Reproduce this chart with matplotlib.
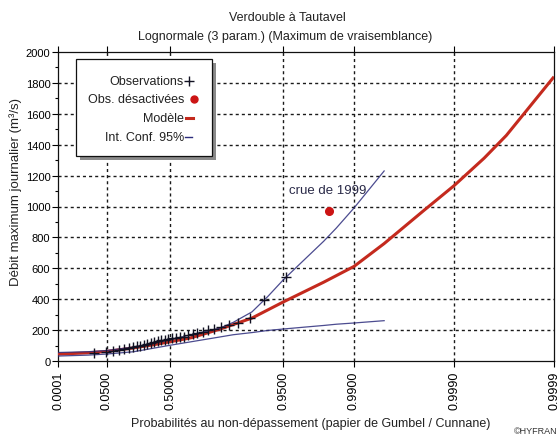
import numpy as np
import matplotlib
matplotlib.use('Agg')
import matplotlib.pyplot as plt
from matplotlib.patches import Rectangle
from matplotlib.lines import Line2D

FONT = ['Liberation Sans Narrow', 'Liberation Sans', 'DejaVu Sans']
plt.rcParams['font.family'] = FONT

# ---------------- data ----------------
title_lines = ["Verdouble à Tautavel",
               "Lognormale (3 param.) (Maximum de vraisemblance)"]
x_label = "Probabilités au non-dépassement (papier de Gumbel / Cunnane)"
y_label = "Débit maximum journalier (m³/s)"

x_tick_probs = [0.0001, 0.05, 0.5, 0.95, 0.99, 0.999, 0.9999]
x_tick_labels = ["0.0001", "0.0500", "0.5000", "0.9500", "0.9900", "0.9990", "0.9999"]
y_ticks = [0, 200, 400, 600, 800, 1000, 1200, 1400, 1600, 1800, 2000]

n_total = 34
obs_ranks = list(range(1, 34))
obs_values = [52, 60, 66, 72, 78, 84, 90, 95, 100, 106, 112, 118, 124, 130,
              134, 138, 142, 146, 150, 153, 158, 166, 174, 182, 190, 198,
              210, 220, 232, 246, 276, 392, 543]
deact_rank = 34
deact_value = 973

model_probs = [0.0001, 0.001, 0.01, 0.05, 0.2, 0.35, 0.5, 0.65, 0.8, 0.9,
               0.95, 0.98, 0.99, 0.995, 0.998, 0.999, 0.9995, 0.9997, 0.9998, 0.9999]
model_values = [45, 48, 53, 62, 85, 104, 125, 150, 205, 278,
                382, 510, 612, 760, 975, 1135, 1313, 1460, 1600, 1840]

ci_probs = [0.0001, 0.01, 0.05, 0.2, 0.5, 0.8, 0.85, 0.9, 0.93, 0.95, 0.97,
            0.98, 0.985, 0.99, 0.995]
ci_upper = [55, 60, 68, 90, 138, 212, 250, 318, 420, 525, 665,
            775, 860, 990, 1230]
ci_lower = [32, 38, 45, 60, 102, 155, 170, 184, 198, 207, 220,
            230, 238, 246, 261]

annotation = "crue de 1999"
legend_labels = ["Observations", "Obs. désactivées", "Modèle", "Int. Conf. 95%"]

# ---------------- helpers ----------------
def gumbel(p):
    p = np.asarray(p, dtype=float)
    return -np.log(-np.log(p))

def cunnane(rank, n):
    return (np.asarray(rank, dtype=float) - 0.4) / (n + 0.2)

W, H = 560, 439
fig = plt.figure(figsize=(W / 100, H / 100), dpi=100)
fig.patch.set_facecolor('white')

def fx(px):
    return px / W

def fy(py):
    return 1 - py / H

ax = fig.add_axes([fx(58), fy(362), fx(554) - fx(58), fy(53) - fy(362)])

RED = '#c42a1e'
NAVY = '#2c2c7c'

# grid
for p in x_tick_probs[1:-1]:
    ax.axvline(gumbel(p), color='#1a1a1a', lw=1.0, ls=(0, (2.2, 2.2)), zorder=1)
for v in y_ticks[1:-1]:
    ax.axhline(v, color='#1a1a1a', lw=1.0, ls=(0, (2.2, 2.2)), zorder=1)

# model
ax.plot(gumbel(model_probs), model_values, color=RED, lw=2.2, zorder=3,
        solid_capstyle='butt', solid_joinstyle='round')
# confidence intervals
ax.plot(gumbel(ci_probs), ci_upper, color=NAVY, lw=0.9, zorder=4, alpha=0.85)
ax.plot(gumbel(ci_probs), ci_lower, color=NAVY, lw=0.9, zorder=4, alpha=0.85)
# observations
ax.plot(gumbel(cunnane(obs_ranks, n_total)), obs_values, ls='none', marker='+',
        ms=7, mew=1.0, color='#111122', zorder=5)
# deactivated observation
ax.plot(gumbel(cunnane(deact_rank, n_total)), deact_value, ls='none', marker='o',
        ms=5.5, color='#cc1414', mec='#cc1414', zorder=5)

ax.text(gumbel(0.9819), 1110, annotation, fontsize=9.5, color='#2a2a48',
        ha='center', va='center', zorder=6)

ax.set_xlim(gumbel(0.0001), gumbel(0.9999))
ax.set_ylim(0, 2000)
ax.set_xticks(gumbel(x_tick_probs))
ax.set_xticklabels(x_tick_labels, rotation=90, fontsize=9)
ax.set_yticks(y_ticks)
ax.set_yticklabels([str(v) for v in y_ticks], fontsize=8)
ax.set_yticks(np.arange(100, 2000, 200), minor=True)
ax.tick_params(axis='y', which='major', direction='out', length=4, width=0.8, pad=1.5)
ax.tick_params(axis='y', which='minor', direction='out', length=2.5, width=0.8)
ax.tick_params(axis='x', which='major', direction='out', length=4, width=0.8, pad=3,
               top=True)
for sp in ax.spines.values():
    sp.set_linewidth(0.9)
    sp.set_color('#111111')

# titles and labels
fig.text(fx(287), fy(18), title_lines[0], fontsize=9, ha='center', va='center', color='#222222')
fig.text(fx(285), fy(37), title_lines[1], fontsize=9, ha='center', va='center', color='#222222')
fig.text(fx(16), fy(192), y_label, fontsize=9.5, rotation=90, ha='center', va='center', color='#222222')
fig.text(fx(311), fy(424), x_label, fontsize=9, ha='center', va='center', color='#222222')
fig.text(fx(558), fy(432), "©HYFRAN", fontsize=6.5, ha='right', va='center', color='#333333')

# legend box with shadow
shadow = Rectangle((fx(80), fy(161)), fx(212) - fx(76), fy(60) - fy(157),
                   transform=fig.transFigure, facecolor='#8a8a8a', edgecolor='none', zorder=10)
box = Rectangle((fx(76), fy(157)), fx(212) - fx(76), fy(60) - fy(157),
                transform=fig.transFigure, facecolor='white', edgecolor='#111111',
                lw=0.9, zorder=11)
fig.add_artist(shadow)
fig.add_artist(box)
rows = [82, 100, 119, 138]
for lab, ry in zip(legend_labels, rows):
    fig.text(fx(184), fy(ry), lab, fontsize=9, ha='right', va='center', color='#222222', zorder=12)
fig.add_artist(Line2D([fx(189)], [fy(rows[0])], marker='+', ms=7, mew=1.0, color='#111122',
                      transform=fig.transFigure, zorder=12))
fig.add_artist(Line2D([fx(194)], [fy(rows[1])], marker='o', ms=5, color='#cc1414',
                      transform=fig.transFigure, zorder=12))
fig.add_artist(Line2D([fx(186), fx(193)], [fy(rows[2]), fy(rows[2])], lw=2.2, color=RED,
                      transform=fig.transFigure, zorder=12))
fig.add_artist(Line2D([fx(185), fx(192)], [fy(rows[3]), fy(rows[3])], lw=1.0, color=NAVY,
                      transform=fig.transFigure, zorder=12))

fig.savefig('out.png', dpi=100, facecolor='white')
